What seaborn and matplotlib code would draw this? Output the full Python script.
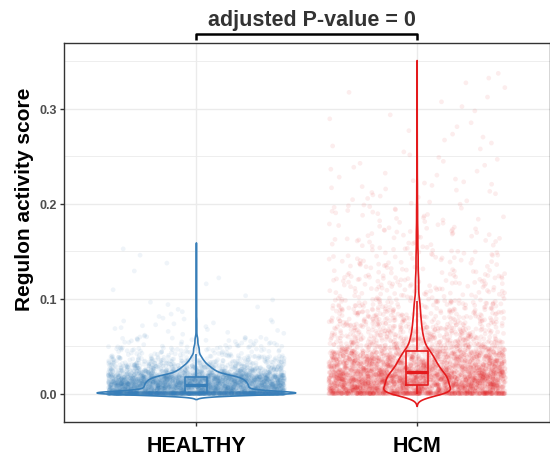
import numpy as np
import pandas as pd
import matplotlib
matplotlib.use("Agg")
import matplotlib.pyplot as plt
from matplotlib.ticker import FixedLocator
import seaborn as sns

# ---------------- data ----------------
groups = ["HEALTHY", "HCM"]
colors = ["#377EB8", "#E41A1C"]

# histogram of regulon activity scores per group (cells per bin), plus exact zeros
healthy_zeros = 920
healthy_edges = [0.0, 0.0025, 0.005, 0.0075, 0.01, 0.0125, 0.015, 0.0175, 0.02,
                 0.025, 0.03, 0.035, 0.04, 0.05, 0.06, 0.08, 0.10, 0.125, 0.15, 0.155]
healthy_counts = [300, 320, 320, 320, 310, 300, 280, 240,
                  260, 180, 110, 70, 70, 35, 20, 8, 4, 3, 1]

hcm_zeros = 300
hcm_edges = [0.0, 0.005, 0.01, 0.015, 0.02, 0.025, 0.03, 0.035, 0.04, 0.045, 0.05,
             0.06, 0.07, 0.08, 0.09, 0.10, 0.125, 0.15, 0.175, 0.20, 0.225, 0.25,
             0.275, 0.30, 0.325, 0.34]
hcm_counts = [380, 380, 390, 370, 320, 270, 240, 210, 180, 130,
              180, 130, 105, 85, 70, 100, 65, 45, 30, 20, 12, 8, 6, 5, 3]

y_ticks = [0.0, 0.1, 0.2, 0.3]
y_ticklabels = ["0.0", "0.1", "0.2", "0.3"]
y_minor = [0.05, 0.15, 0.25, 0.35]
annotation = "adjusted P-value = 0"
y_label = "Regulon activity score"


def expand(zeros, edges, counts):
    vals = [np.zeros(zeros)]
    for lo, hi, n in zip(edges[:-1], edges[1:], counts):
        vals.append(lo + (np.arange(n) + 0.5) / n * (hi - lo))
    return np.concatenate(vals)


h_vals = expand(healthy_zeros, healthy_edges, healthy_counts)
c_vals = expand(hcm_zeros, hcm_edges, hcm_counts)
df = pd.DataFrame({
    "group": ["HEALTHY"] * len(h_vals) + ["HCM"] * len(c_vals),
    "value": np.concatenate([h_vals, c_vals]),
})
df["group"] = pd.Categorical(df["group"], categories=groups, ordered=True)
pal = dict(zip(groups, colors))


def nrd0(kde):
    x = np.asarray(kde.dataset).ravel()
    sd = x.std(ddof=1)
    q75, q25 = np.percentile(x, [75, 25])
    lo = min(sd, (q75 - q25) / 1.34)
    bw = 0.9 * lo * len(x) ** (-0.2)
    return bw / sd


# ---------------- plot ----------------
plt.rcParams["font.family"] = ["Liberation Sans", "DejaVu Sans"]
np.random.seed(7)

fig = plt.figure(figsize=(5.5, 4.56), dpi=100)
ax = fig.add_axes([64 / 550, 1 - 423 / 456, (549.5 - 64) / 550, (423 - 44) / 456])

sns.stripplot(data=df, x="group", y="value", hue="group", palette=pal,
              order=groups, hue_order=groups, jitter=0.4, size=3.4,
              alpha=0.08, linewidth=0, legend=False, ax=ax, zorder=1)
sns.violinplot(data=df, x="group", y="value", hue="group", palette=pal,
               order=groups, hue_order=groups, fill=False, inner=None,
               cut=3, width=0.9, density_norm="area", common_norm=True,
               bw_method=nrd0, gridsize=1500, linewidth=1.2, legend=False, ax=ax)
sns.boxplot(data=df, x="group", y="value", hue="group", palette=pal,
            order=groups, hue_order=groups, fill=False, width=0.1,
            showfliers=False, whis=1.5, linewidth=1.2, legend=False, ax=ax,
            medianprops=dict(linewidth=2.4), capprops=dict(linewidth=0))

ax.set_xlim(-0.6, 1.6)
ax.set_ylim(-0.030, 0.3695)

# grid (theme_bw look)
ax.set_axisbelow(True)
ax.set_yticks(y_ticks)
ax.set_yticklabels(y_ticklabels)
ax.yaxis.set_minor_locator(FixedLocator(y_minor))
ax.grid(which="major", axis="both", color="#EBEBEB", linewidth=1.0, zorder=0)
ax.grid(which="minor", axis="y", color="#EBEBEB", linewidth=0.6, zorder=0)
ax.tick_params(which="minor", length=0)
ax.tick_params(which="major", length=3, width=1.0, color="#333333")
ax.tick_params(axis="y", labelsize=9, labelcolor="#4D4D4D", pad=2)
ax.tick_params(axis="x", labelsize=15.5, labelcolor="black", pad=6)
for lab in ax.get_yticklabels():
    lab.set_fontweight("bold")
for lab in ax.get_xticklabels():
    lab.set_fontweight("bold")

for sp in ax.spines.values():
    sp.set_color("#333333")
    sp.set_linewidth(1.0)

ax.set_xlabel("")
ax.set_ylabel(y_label, fontsize=15, fontweight="bold", color="black")
ax.yaxis.set_label_coords(-0.062, 0.59)

# significance bracket
ax.plot([0, 0, 1, 1], [0.3727, 0.379, 0.379, 0.3727], color="black",
        linewidth=1.8, clip_on=False, solid_capstyle="butt")
ax.text(0.525, 0.3885, annotation, ha="center", va="baseline",
        fontsize=15.5, fontweight="bold", color="#333333", clip_on=False)

fig.savefig("out.png", dpi=100)
